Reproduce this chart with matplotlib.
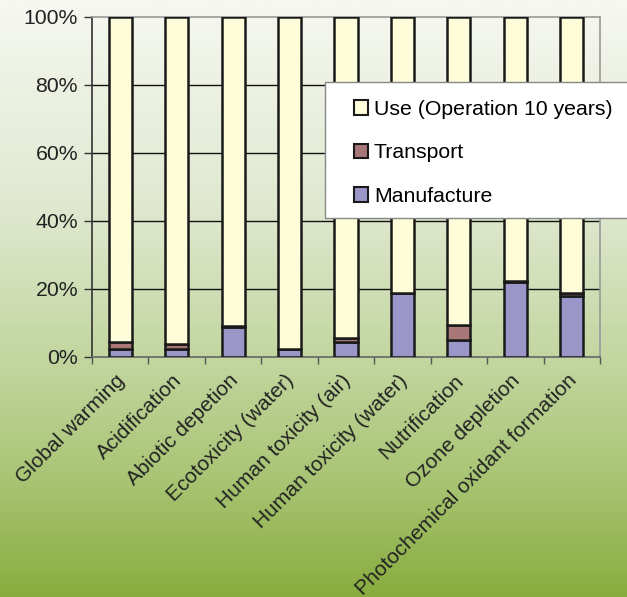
import numpy as np
import matplotlib
matplotlib.use("Agg")
from matplotlib import pyplot as plt
from matplotlib import transforms
from matplotlib.colors import LinearSegmentedColormap
from matplotlib.patches import Patch, Rectangle

categories = ["Global warming", "Acidification", "Abiotic depetion",
              "Ecotoxicity (water)", "Human toxicity (air)",
              "Human toxicity (water)", "Nutrification", "Ozone depletion",
              "Photochemical oxidant formation"]
manufacture = [2.5, 2.4, 8.9, 2.4, 4.5, 18.7, 5.0, 22.2, 17.9]
transport = [2.0, 1.5, 0.1, 0.1, 1.0, 0.1, 4.4, 0.1, 0.8]
use = [100 - m - t for m, t in zip(manufacture, transport)]

plt.rcParams["font.family"] = ["Liberation Sans", "DejaVu Sans"]
fs = 15.3

fig = plt.figure(figsize=(6.27, 5.97), dpi=100)

# background gradient
bg = fig.add_axes([0, 0, 1, 1], zorder=-10)
cmap = LinearSegmentedColormap.from_list(
    "bg", [(0.0, "#f6f8f1"), (0.35, "#dfe8cf"), (0.6, "#c3d6a0"),
           (0.8, "#a9c575"), (1.0, "#88ad3e")])
grad = np.linspace(0, 1, 256).reshape(-1, 1)
bg.imshow(grad, aspect="auto", cmap=cmap, extent=[0, 1, 0, 1], origin="upper")
bg.axis("off")

ax = fig.add_axes([92/627, 1 - 357/597, 508/627, 340/597])
ax.patch.set_alpha(0)

x = np.arange(len(categories))
w = 0.41
ec = "#1a1a1a"
ax.bar(x, manufacture, w, color="#9b96c8", edgecolor=ec, linewidth=1.8, zorder=3)
ax.bar(x, transport, w, bottom=manufacture, color="#a87777", edgecolor=ec,
       linewidth=1.8, zorder=3)
bottoms = [m + t for m, t in zip(manufacture, transport)]
ax.bar(x, use, w, bottom=bottoms, color="#fffcd9", edgecolor=ec, linewidth=1.8,
       zorder=3)

ax.set_xlim(-0.5, len(categories) - 0.5)
ax.set_ylim(0, 100)
ax.set_yticks([0, 20, 40, 60, 80, 100])
ax.set_yticklabels(["0%", "20%", "40%", "60%", "80%", "100%"], fontsize=fs,
                   color="#222222")
for v in [20, 40, 60, 80]:
    ax.axhline(v, color="#111111", linewidth=1.0, zorder=1)

# ticks between categories, labels placed as rotated texts under each bar
ax.set_xticks(np.arange(len(categories) + 1) - 0.5)
ax.set_xticklabels([])
ax.tick_params(axis="x", length=5, width=1, color="#555555")
ax.tick_params(axis="y", length=6, width=1, color="#333333", pad=4)
shift = transforms.ScaledTranslation(-5/100, -14/100, fig.dpi_scale_trans)
for xi, name in zip(x, categories):
    ax.text(xi, 0, name, transform=ax.get_xaxis_transform() + shift,
            rotation=45, rotation_mode="anchor", ha="right", va="top",
            fontsize=15.0, color="#222222")

ax.spines["left"].set_color("#333333")
ax.spines["bottom"].set_color("#666666")
ax.spines["top"].set_color("#999999")
ax.spines["right"].set_color("#999999")
for s in ax.spines.values():
    s.set_linewidth(1.2)

# legend box drawn separately so it can run off the right edge
frame = Rectangle((325/627, 1 - 218/597), 0.6, 136/597,
                  transform=fig.transFigure, facecolor="white",
                  edgecolor="#888888", linewidth=1.0, zorder=5)
fig.patches.append(frame)

handles = [Patch(facecolor="#fffcd9", edgecolor=ec, linewidth=1.5),
           Patch(facecolor="#a87777", edgecolor=ec, linewidth=1.5),
           Patch(facecolor="#9b96c8", edgecolor=ec, linewidth=1.5)]
leg = fig.legend(handles, ["Use (Operation 10 years)", "Transport", "Manufacture"],
                 loc="upper left", bbox_to_anchor=(354/627, 1 - 100/597),
                 fontsize=fs, frameon=False, handlelength=0.68,
                 handleheight=0.68, handletextpad=0.25, labelspacing=1.15,
                 borderpad=0, borderaxespad=0)
leg.set_zorder(6)

fig.savefig("out.png", dpi=100)
